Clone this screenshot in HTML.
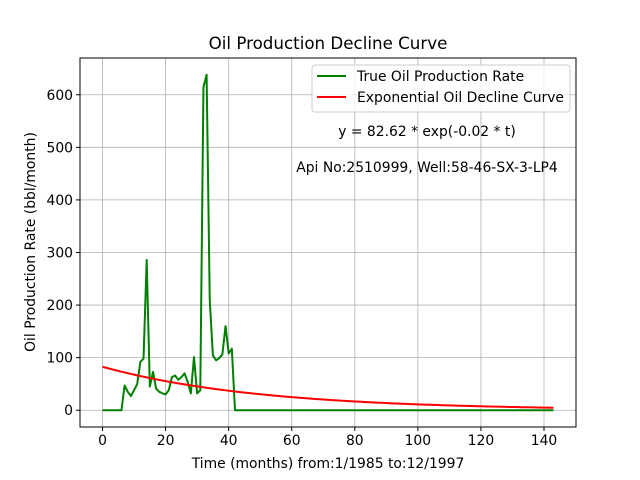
<!DOCTYPE html>
<html><head><meta charset="utf-8"><style>
html,body{margin:0;padding:0;background:#fff;}
svg{display:block;font-family:"DejaVu Sans","Liberation Sans",sans-serif;}
</style></head><body>
<svg id="chart" width="640" height="480" viewBox="0 0 640 480" xmlns="http://www.w3.org/2000/svg">
<rect width="640" height="480" fill="#fff"/>
<g id="grid"></g>
<g id="series"></g>
<rect x="80" y="58" width="496" height="369" fill="none" stroke="#000" stroke-width="1"/>
<g id="ticks" font-size="13.9"></g>
<text x="328" y="49" text-anchor="middle" font-size="16.7">Oil Production Decline Curve</text>
<text x="328" y="468" text-anchor="middle" font-size="13.9">Time (months) from:1/1985 to:12/1997</text>
<text transform="translate(35,242) rotate(-90)" text-anchor="middle" font-size="13.9">Oil Production Rate (bbl/month)</text>
<g>
<rect x="312" y="65" width="258" height="47" rx="3" fill="#fff" fill-opacity="0.8" stroke="#ccc"/>
<line x1="317" y1="76" x2="346" y2="76" stroke="#008000" stroke-width="2"/>
<text x="357" y="81" font-size="13.9">True Oil Production Rate</text>
<line x1="317" y1="97" x2="346" y2="97" stroke="#ff0000" stroke-width="2"/>
<text x="357" y="102" font-size="13.9">Exponential Oil Decline Curve</text>
</g>
<text x="427" y="136" text-anchor="middle" font-size="13.9">y = 82.62 * exp(-0.02 * t)</text>
<text x="427" y="172" text-anchor="middle" font-size="13.9">Api No:2510999, Well:58-46-SX-3-LP4</text>
</svg>
<script>
const xTicks = [0,20,40,60,80,100,120,140];
const yTicks = [0,100,200,300,400,500,600];
const earlyRates = [0,0,0,0,0,0,0,47,35,27,38,50,92,98,286,45,73,41,35,32,30,38,63,66,58,63,70,54,32,101,32,38,614,638,209,104,95,99,106,160,108,117,0];
const totalMonths = 144;
const fitA = 82.62, fitB = 0.02;

const rates = earlyRates.slice();
while (rates.length < totalMonths) rates.push(0);

const X0=80,X1=576,Y0=58,Y1=427;
const xmin=-7.15,xmax=150.15,ymin=-31.9,ymax=669.9;
const sx=v=>X0+(v-xmin)/(xmax-xmin)*(X1-X0);
const sy=v=>Y1-(v-ymin)/(ymax-ymin)*(Y1-Y0);
const NS='http://www.w3.org/2000/svg';
function mk(t,a,p){const e=document.createElementNS(NS,t);for(const k in a)e.setAttribute(k,a[k]);p.appendChild(e);return e;}
const grid=document.getElementById('grid'),ticks=document.getElementById('ticks'),series=document.getElementById('series');
xTicks.forEach(v=>{
  const x=sx(v);
  const g=mk('line',{x1:x,y1:Y0,x2:x,y2:Y1,stroke:'#b0b0b0','stroke-width':0.8},grid);
  
  
  const t=mk('line',{x1:x,y1:Y1,x2:x,y2:Y1+4,stroke:'#000'},ticks);
  
  
  const l=mk('text',{x:x,y:Y1+18,'text-anchor':'middle'},ticks);l.textContent=v;
  
  
});
yTicks.forEach(v=>{
  const y=sy(v);
  const g=mk('line',{x1:X0,y1:y,x2:X1,y2:y,stroke:'#b0b0b0','stroke-width':0.8},grid);
  
  
  const t=mk('line',{x1:X0-4,y1:y,x2:X0,y2:y,stroke:'#000'},ticks);
  
  
  const l=mk('text',{x:X0-7,y:y+5,'text-anchor':'end'},ticks);l.textContent=v;
  
  
});
const gp=rates.map((v,i)=>sx(i).toFixed(2)+','+sy(v).toFixed(2)).join(' ');
const g1=mk('polyline',{points:gp,fill:'none',stroke:'#008000','stroke-width':2,'stroke-linejoin':'round'},series);


const ep=rates.map((_,i)=>sx(i).toFixed(2)+','+sy(fitA*Math.exp(-fitB*i)).toFixed(2)).join(' ');
const g2=mk('polyline',{points:ep,fill:'none',stroke:'#ff0000','stroke-width':2},series);


</script>
</body></html>
